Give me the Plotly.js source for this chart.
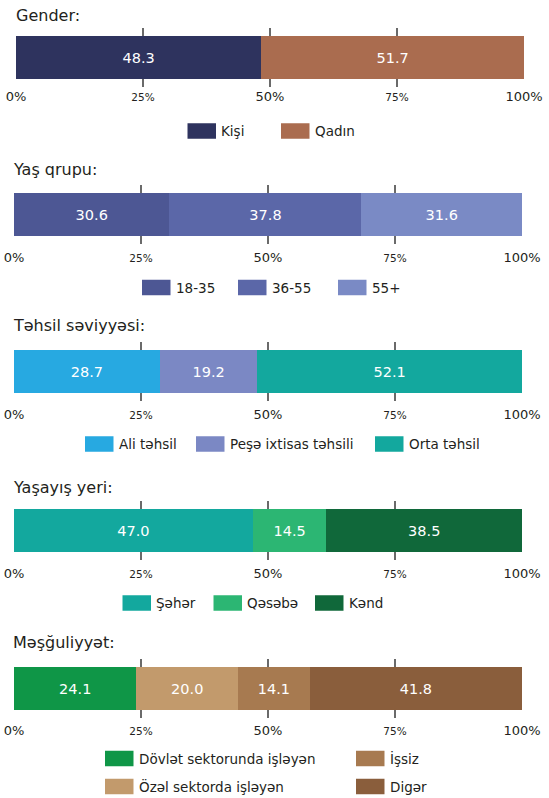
<!DOCTYPE html>
<html>
<head>
<meta charset="utf-8">
<script src="https://cdn.plot.ly/plotly-3.0.1.min.js"></script>
<style>html,body{margin:0;padding:0;background:#fff;}#chart{width:549px;height:798px;}</style>
</head>
<body>
<div id="chart"></div>
<script>
// ---- data ----
const panelTitles = ['Gender:', 'Yaş qrupu:', 'Təhsil səviyyəsi:', 'Yaşayış yeri:', 'Məşğuliyyət:'];
const genderCats = ['Kişi', 'Qadın'];
const genderVals = [48.3, 51.7];
const ageCats = ['18-35', '36-55', '55+'];
const ageVals = [30.6, 37.8, 31.6];
const eduCats = ['Ali təhsil', 'Peşə ixtisas təhsili', 'Orta təhsil'];
const eduVals = [28.7, 19.2, 52.1];
const resCats = ['Şəhər', 'Qəsəbə', 'Kənd'];
const resVals = [47.0, 14.5, 38.5];
const empCats = ['Dövlət sektorunda işləyən', 'Özəl sektorda işləyən', 'İşsiz', 'Digər'];
const empVals = [24.1, 20.0, 14.1, 41.8];
const tickVals = [0, 25, 50, 75, 100];
const tickLabels = ['0%', '25%', '50%', '75%', '100%'];

// ---- styling ----
const W = 549, H = 798;
const FONT = 'DejaVu Sans, Verdana, sans-serif';
const TXT = '#231F20';
const colors = [
  ['#2E335E', '#AA6C4F'],
  ['#4D5794', '#5B67A8', '#7A8AC5'],
  ['#27A9E1', '#7B88C4', '#13A89E'],
  ['#13A89E', '#2CB673', '#10683A'],
  ['#0F9647', '#C29A6C', '#A77A50', '#8A5E3C']
];
const cats = [genderCats, ageCats, eduCats, resCats, empCats];
const vals = [genderVals, ageVals, eduVals, resVals, empVals];

// panel geometry in pixels (plot area = gridline extent)
const panels = [
  {x0: 16, x1: 524, top: 28, bot: 87, titleY: 15, titleX: 14, standoff: 0},
  {x0: 14, x1: 522, top: 185, bot: 244, titleY: 170, titleX: 11, standoff: 4},
  {x0: 14, x1: 522, top: 342, bot: 401, titleY: 325, titleX: 11, standoff: 4},
  {x0: 14, x1: 522, top: 501, bot: 560, titleY: 487, titleX: 11, standoff: 4},
  {x0: 14, x1: 522, top: 659, bot: 718, titleY: 642, titleX: 11, standoff: 3}
];
// legend swatch positions in pixels: [left, centerY] per category
const legendSlots = [
  [[187.5, 131], [281, 131]],
  [[142, 287.5], [238, 287.5], [338, 287.5]],
  [[85, 444], [196, 444], [375, 444]],
  [[122.5, 603], [213.5, 603], [315, 603]],
  [[105, 758.5], [105, 786.5], [356, 758.5], [356, 786.5]]
];
const SW = 28.5, SH = 15.5;

const traces = [];
const layout = {
  width: W, height: H,
  margin: {l: 0, r: 0, t: 0, b: 0},
  paper_bgcolor: '#ffffff', plot_bgcolor: 'rgba(0,0,0,0)',
  barmode: 'stack', bargap: 0,
  showlegend: false,
  font: {family: FONT, color: TXT},
  annotations: [], shapes: []
};

panels.forEach((p, i) => {
  const n = i + 1;
  const xa = n === 1 ? 'x' : 'x' + n;
  const ya = n === 1 ? 'y' : 'y' + n;
  const xk = n === 1 ? 'xaxis' : 'xaxis' + n;
  const yk = n === 1 ? 'yaxis' : 'yaxis' + n;
  const plotH = p.bot - p.top;
  layout[xk] = {
    domain: [p.x0 / W, p.x1 / W], anchor: ya, range: [0, 100], fixedrange: true,
    tickmode: 'array', tickvals: tickVals,
    ticktext: tickLabels.map((t, k) => (k % 2 === 1) ? '<span style="font-size:10.5px">' + t + '</span>' : t),
    tickfont: {family: FONT, size: 13, color: TXT},
    ticks: 'inside', ticklen: plotH, tickwidth: 2, tickcolor: '#6a6a6a',
    layer: 'below traces',
    showgrid: false, zeroline: false, showline: false, ticklabelstandoff: p.standoff
  };
  layout[yk] = {
    domain: [1 - p.bot / H, 1 - p.top / H], anchor: xa, range: [-0.702, 0.702],
    fixedrange: true, showgrid: false, zeroline: false, showticklabels: false, ticks: ''
  };
  layout.annotations.push({
    xref: 'paper', yref: 'paper', x: p.titleX / W, y: 1 - p.titleY / H,
    xanchor: 'left', yanchor: 'middle', showarrow: false,
    text: panelTitles[i], font: {family: FONT, size: 16, color: TXT}
  });
  cats[i].forEach((c, k) => {
    traces.push({
      type: 'bar', orientation: 'h', xaxis: xa, yaxis: ya,
      x: [vals[i][k]], y: [0], width: [1], name: c,
      marker: {color: colors[i][k], line: {width: 0}},
      text: [vals[i][k].toFixed(1)], textposition: 'inside', insidetextanchor: 'middle',
      textangle: 0, constraintext: 'none',
      textfont: {family: FONT, size: 14.5, color: '#ffffff'},
      hoverinfo: 'skip', showlegend: false
    });
    // legend entry: swatch + label
    const [lx, ly] = legendSlots[i][k];
    layout.shapes.push({
      type: 'rect', xref: 'paper', yref: 'paper', layer: 'above',
      x0: lx / W, x1: (lx + SW) / W, y0: 1 - (ly + SH / 2) / H, y1: 1 - (ly - SH / 2) / H,
      fillcolor: colors[i][k], line: {width: 0}
    });
    layout.annotations.push({
      xref: 'paper', yref: 'paper', x: (lx + SW + 3) / W, y: 1 - ly / H,
      xanchor: 'left', yanchor: 'middle', showarrow: false,
      text: c, font: {family: FONT, size: 13.5, color: TXT}
    });
  });
});

Plotly.newPlot('chart', traces, layout, {staticPlot: true, displayModeBar: false});
</script>
</body>
</html>
